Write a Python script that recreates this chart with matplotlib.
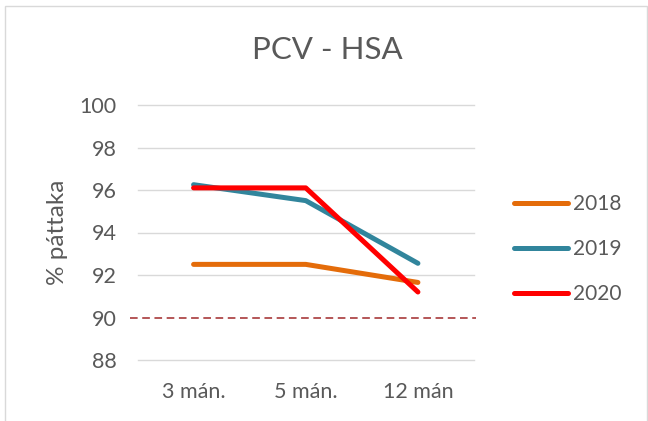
import matplotlib
matplotlib.use('Agg')
from matplotlib import pyplot as plt
from matplotlib.patches import Rectangle

plt.rcParams['font.family'] = ['Lato', 'DejaVu Sans']

# data
categories = ['3 mán.', '5 mán.', '12 mán']
years = ['2018', '2019', '2020']
v2018 = [92.5, 92.5, 91.65]
v2019 = [96.25, 95.5, 92.55]
v2020 = [96.1, 96.1, 91.2]
target = 90
y_ticks = [88, 90, 92, 94, 96, 98, 100]

series = [v2018, v2019, v2020]
colors = ['#E46C0A', '#31859C', '#FF0000']
txt = '#595959'

fig = plt.figure(figsize=(6.48, 4.21), dpi=100)
ax = fig.add_axes([137.5 / 648, 1 - 360 / 421, 336.5 / 648, 255 / 421])

x = list(range(len(categories)))
for yv in y_ticks:
    if yv != target:
        ax.axhline(yv, color='#D9D9D9', lw=1.0, zorder=1, clip_on=False)
ax.plot([-0.57, 2.52], [target, target], color='#A0282A', lw=1.1,
        ls=(0, (5, 3)), zorder=2, clip_on=False)

for vals, c, lab in zip(series, colors, years):
    ax.plot(x, vals, color=c, lw=3.6, solid_capstyle='round',
            solid_joinstyle='round', label=lab, zorder=3, clip_on=False)

ax.set_xlim(-0.5, 2.5)
ax.set_ylim(88, 100)
ax.set_xticks(x)
ax.set_xticklabels(categories)
ax.set_yticks(y_ticks)
ax.tick_params(length=0, labelsize=15.5, colors=txt, pad=15)
ax.tick_params(axis='x', pad=16)
for s in ax.spines.values():
    s.set_visible(False)

ax.set_ylabel('% páttaka', fontsize=17.5, color=txt, labelpad=8)
fig.text(327 / 648, 1 - 50 / 421, 'PCV - HSA', ha='center', va='center',
         fontsize=22.5, color=txt)

leg = ax.legend(loc='center left', bbox_to_anchor=(495 / 648, 1 - 249 / 421),
                bbox_transform=fig.transFigure, frameon=False, fontsize=15,
                handlelength=2.6, handletextpad=0.25, labelspacing=1.2)
for t in leg.get_texts():
    t.set_color(txt)

fig.patches.append(Rectangle((5 / 648, -0.05), 642 / 648, 1.05 - 6 / 421,
                             transform=fig.transFigure, fill=False,
                             edgecolor='#D9D9D9', lw=1.0))

plt.savefig('out.png', dpi=100)
